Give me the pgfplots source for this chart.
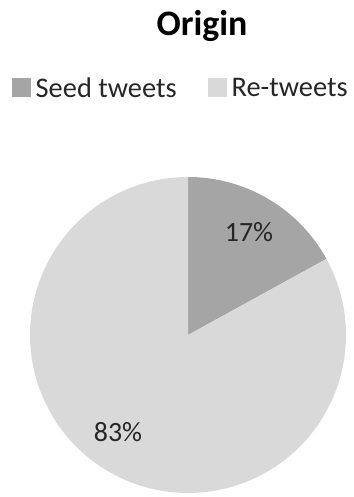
\documentclass[border=0pt]{standalone}
\usepackage{pgfplots}
\usepackage{pgfplotstable}
\pgfplotsset{compat=1.18}
\usepackage{fontspec}
\setmainfont{Carlito}
\definecolor{seedc}{HTML}{A5A5A5}
\definecolor{rec}{HTML}{D9D9D9}
\definecolor{txt}{HTML}{262626}
\pgfplotstableread{
label value
Seed 17
Re 83
}\piedata
\pgfplotstablegetelem{0}{value}\of\piedata \let\vSeed\pgfplotsretval
\pgfplotstablegetelem{1}{value}\of\piedata \let\vRe\pgfplotsretval
\pgfmathsetmacro{\aA}{90-\vSeed*3.6}
\pgfmathsetmacro{\aB}{\aA-\vRe*3.6}
\def\cx{188}\def\cy{162}\def\r{158}
\begin{document}
\begin{tikzpicture}
\begin{axis}[
  scale only axis, width=354bp, height=497bp,
  xmin=0, xmax=354, ymin=0, ymax=497,
  hide axis, clip=false,
  legend columns=2,
  legend style={draw=none, fill=none, at={(axis cs:12,409)}, anchor=west,
    inner sep=0pt, font=\fontsize{28.5}{31}\selectfont\color{txt},
    nodes={inner xsep=4.5bp, inner ysep=0pt},
    /tikz/every even column/.append style={column sep=27bp}},
  legend image code/.code={\fill[#1] (0bp,-9.5bp) rectangle (19bp,9.5bp);},
]
\path (axis cs:0,0) (axis cs:354,497);
\addplot[fill=seedc, draw=none, domain=\aA:90, samples=40, variable=\t]
  ({\cx+\r*cos(\t)},{\cy+\r*sin(\t)}) -- (axis cs:\cx,\cy) -- cycle;
\addlegendentry{Seed tweets}
\addplot[fill=rec, draw=none, domain=\aB:\aA, samples=150, variable=\t]
  ({\cx+\r*cos(\t)},{\cy+\r*sin(\t)}) -- (axis cs:\cx,\cy) -- cycle;
\addlegendentry{Re-tweets}
\node[font=\fontsize{36}{40}\selectfont\bfseries, text=black] at (axis cs:202,471) {Origin};
\node[font=\fontsize{28}{30}\selectfont, text=txt] at (axis cs:249,265) {17\%};
\node[font=\fontsize{28}{30}\selectfont, text=txt] at (axis cs:118,65) {83\%};
\end{axis}
\end{tikzpicture}
\end{document}
